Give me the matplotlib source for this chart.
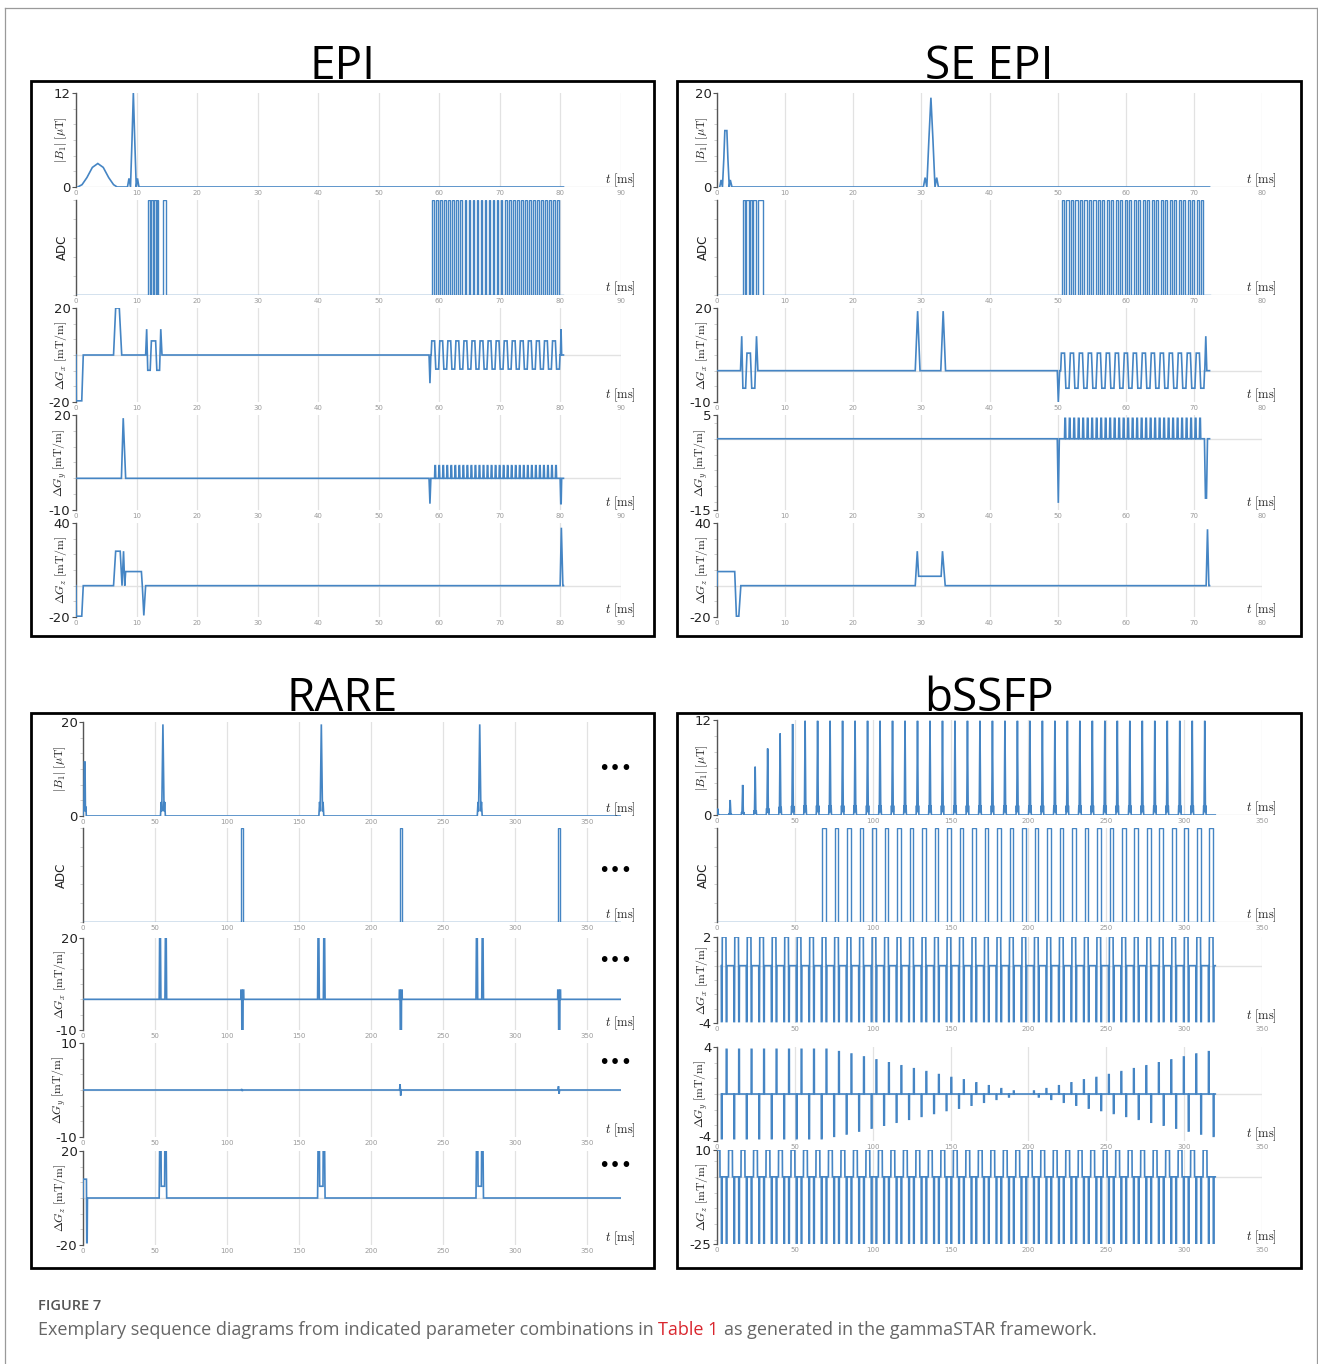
import matplotlib
matplotlib.use('Agg')
import matplotlib.pyplot as plt
from matplotlib.patches import Rectangle
from matplotlib.lines import Line2D
from matplotlib.ticker import MultipleLocator

W, H = 1318, 1364
plt.rcParams['mathtext.fontset'] = 'cm'

BLUE = '#4585c4'
GRID = '#e2e2e2'

# ---------------- EPI (times in ms) ----------------
epi_b1 = [(0.3, 0), (1.0, 0.3), (1.8, 1.2), (2.7, 2.5), (3.6, 3.0), (4.5, 2.5), (5.4, 1.2),
          (6.2, 0.3), (6.8, 0), (8.5, 0), (8.75, 1.1), (9.0, 0), (9.25, 6.0), (9.47, 12.0),
          (9.7, 6.0), (9.95, 0), (10.15, 1.1), (10.4, 0)]
epi_adc_nav = [(11.95, 12.2), (12.4, 12.7), (12.85, 13.2), (13.3, 13.6), (14.3, 14.85)]
epi_ro = [58.65, 0.665, 32, 6.0, 4.0]      # start, lobe length, lobes, Gx amp, Gy blip
epi_gx_pre = [(0, 0), (0.05, -19.5), (0.95, -19.5), (1.2, 0),
              (6.2, 0), (6.55, 20), (7.15, 20), (7.55, 0),
              (11.5, 0), (11.67, 11), (11.85, -6.5), (12.25, -6.5), (12.45, 6), (13.15, 6),
              (13.35, -6.5), (13.8, -6.5), (14.0, 11), (14.2, 0),
              (58.3, 0), (58.45, -12), (58.6, 0)]
epi_gx_post = [(80.0, 0), (80.1, 11), (80.2, 0)]
epi_gy_pre = [(0, 0), (7.5, 0), (7.8, 19), (8.2, 0), (58.3, 0), (58.45, -8), (58.6, 0)]
epi_gy_post = [(79.95, 0), (80.05, -8), (80.12, -8), (80.2, 0)]
epi_gz = [(0, 0), (0.05, -19.5), (0.95, -19.5), (1.2, 0), (6.2, 0), (6.55, 22), (7.3, 22),
          (7.6, 0), (7.85, 22), (8.05, 0), (8.2, 9), (10.8, 9), (10.95, 0), (11.2, -19),
          (11.5, 0), (79.95, 0), (80.15, 37), (80.4, 0)]
epi_end = 80.5

# ---------------- SE EPI ----------------
se_b1 = [(0.4, 0), (0.6, 1.5), (0.8, 0), (1.0, 6), (1.15, 12), (1.45, 12), (1.6, 6), (1.8, 0),
         (1.95, 1.5), (2.2, 0), (30.3, 0), (30.55, 2), (30.8, 0), (31.1, 10), (31.4, 19),
         (31.7, 10), (32.0, 0), (32.25, 2), (32.5, 0)]
se_adc_nav = [(3.78, 4.17), (4.3, 4.65), (4.8, 5.15), (5.3, 5.7), (5.95, 6.7)]
se_ro = [50.45, 0.66, 32, 5.6, 4.3]
se_gx_pre = [(0, 0), (3.45, 0), (3.63, 11), (3.8, -5.6), (4.2, -5.6), (4.4, 5.6), (4.9, 5.6),
             (5.1, -5.6), (5.55, -5.6), (5.8, 11), (6.0, 0),
             (29.1, 0), (29.45, 19), (29.8, 0), (32.85, 0), (33.2, 19), (33.55, 0),
             (49.95, 0), (50.1, -10), (50.3, 0)]
se_gx_post = [(71.6, 0), (71.75, 11), (71.9, 0)]
se_gy_pre = [(0, 0), (49.95, 0), (50.1, -13.5), (50.25, 0)]
se_gy_post = [(71.55, 0), (71.7, -12.5), (71.85, -12.5), (72.0, 0)]
se_gz = [(0, 0), (0.02, 9), (2.6, 9), (2.85, -19.5), (3.2, -19.5), (3.5, 0), (29.1, 0),
         (29.4, 22), (29.6, 6), (32.9, 6), (33.1, 22), (33.5, 0), (71.8, 0), (72.0, 36),
         (72.2, 0)]
se_end = 72.3

# ---------------- RARE ----------------
rare_b1_exc = [(0, 0), (0.3, 2), (0.6, 1), (0.9, 11.5), (1.4, 11.5), (1.7, 1), (2.0, 2), (2.3, 0)]
rare_refocus_t = [55.5, 165.5, 275.5]
rare_refocus_pulse = [(-1.7, 0), (-1.2, 3), (-0.8, 1), (0, 19.5), (0.8, 1), (1.2, 3), (1.7, 0)]
rare_echo_t = [110.6, 220.6, 330.6]
rare_adc_half = 0.7
rare_gx_crusher = [(-2.6, 0), (-2.3, 20), (-1.7, 20), (-1.4, 0), (1.4, 0), (1.7, 20),
                   (2.3, 20), (2.6, 0)]
rare_gx_read = [(-1.0, 0), (-0.9, 3), (-0.4, 3), (-0.3, -10), (0.5, -10), (0.6, 3),
                (1.0, 3), (1.1, 0)]
rare_gy_amp = [0.2, 1.2, 0.8]
rare_gz_exc = [(0, 0), (0.15, 8), (2.4, 8), (2.6, -19), (2.9, -19), (3.1, 0)]
rare_gz_refocus = [(-2.6, 0), (-2.3, 20), (-1.3, 20), (-1.15, 5), (1.15, 5), (1.3, 20),
                   (2.3, 20), (2.6, 0)]
rare_end = 373.6

# ---------------- bSSFP ----------------
bssfp_t0, bssfp_tr = 0.45, 8.02
bssfp_rf_amp = [0.8, 1.9, 3.8, 6.1, 8.4, 10.3, 11.5] + [11.9] * 33
bssfp_adc_first = 8
bssfp_gy_pe = [-3.8] * 9 + [-3.6, -3.4, -3.15, -2.9, -2.65, -2.4, -2.15, -1.9, -1.65, -1.4,
                            -1.2, -0.95, -0.7, -0.45, -0.25, 0.0, 0.25, 0.45, 0.7, 0.95, 1.2,
                            1.4, 1.65, 1.9, 2.15, 2.4, 2.65, 2.9, 3.15, 3.4, 3.6]
bssfp_rf_pulse = [(-0.9, 0), (-0.65, 0.1), (-0.45, 0.03), (0, 1), (0.45, 0.03), (0.65, 0.1),
                  (0.9, 0)]
bssfp_adc_win = (3.0, 5.3)
bssfp_gx = [(2.3, 0), (2.4, -3.9), (2.75, -3.9), (2.85, 0), (2.95, 2), (5.3, 2), (5.4, 0),
            (5.5, -3.9), (5.85, -3.9), (5.95, 0)]
bssfp_gy = [(2.35, 0), (2.4, 1), (2.8, 1), (2.85, 0), (5.45, 0), (5.5, -1), (5.9, -1), (5.95, 0)]
bssfp_gz = [(-1.1, 0), (-1.0, 10), (1.4, 10), (1.5, 0), (2.35, 0), (2.4, -25), (2.8, -25),
            (2.85, 0), (5.45, 0), (5.5, -25), (5.9, -25), (5.95, 0)]
bssfp_end = 320


def readout(t0, lobe, n, amp, ramp=0.1):
    pts = [(t0, 0.0)]
    for k in range(n):
        a = amp if k % 2 == 0 else -amp
        s = t0 + k * lobe
        pts += [(s + ramp, a), (s + lobe - ramp, a)]
    pts.append((t0 + n * lobe, 0.0))
    return pts


def blips(t0, lobe, n, h):
    pts = []
    for k in range(1, n):
        tb = t0 + k * lobe
        pts += [(tb - 0.1, 0), (tb - 0.04, h), (tb + 0.04, h), (tb + 0.1, 0)]
    return pts


def blocks(pairs):
    pts = [(0, 0)]
    for a, b in pairs:
        pts += [(a, 0), (a, 1), (b, 1), (b, 0)]
    return pts


def repeat(centers, shape, amps=None):
    pts = []
    for i, c in enumerate(centers):
        sc = 1 if amps is None else amps[i]
        pts += [(c + dt, v * sc) for dt, v in shape]
    return pts


def xy(pts, t_end):
    return [p[0] for p in pts] + [t_end], [p[1] for p in pts] + [0]


# assemble waveforms
epi_lobes = [epi_ro[0] + k * epi_ro[1] for k in range(epi_ro[2])]
epi_wave = [
    xy(epi_b1, epi_end),
    xy(blocks(epi_adc_nav + [(s + 0.19, s + epi_ro[1] - 0.19) for s in epi_lobes]), epi_end),
    xy(epi_gx_pre + readout(*epi_ro[:4]) + epi_gx_post, epi_end),
    xy(epi_gy_pre + blips(epi_ro[0], epi_ro[1], epi_ro[2], epi_ro[4]) + epi_gy_post, epi_end),
    xy(epi_gz, epi_end),
]
se_lobes = [se_ro[0] + k * se_ro[1] for k in range(se_ro[2])]
se_wave = [
    xy(se_b1, se_end),
    xy(blocks(se_adc_nav + [(s + 0.17, s + se_ro[1] - 0.17) for s in se_lobes]), se_end),
    xy(se_gx_pre + readout(*se_ro[:4]) + se_gx_post, se_end),
    xy(se_gy_pre + blips(se_ro[0], se_ro[1], se_ro[2], se_ro[4]) + se_gy_post, se_end),
    xy(se_gz, se_end),
]
rare_gx_pts = []
rare_gz_pts = list(rare_gz_exc)
for i, c in enumerate(rare_refocus_t):
    rare_gx_pts += [(c + dt, v) for dt, v in rare_gx_crusher]
    rare_gx_pts += [(rare_echo_t[i] + dt, v) for dt, v in rare_gx_read]
    rare_gz_pts += [(c + dt, v) for dt, v in rare_gz_refocus]
rare_wave = [
    xy(rare_b1_exc + repeat(rare_refocus_t, rare_refocus_pulse), rare_end),
    xy(blocks([(e - rare_adc_half, e + rare_adc_half) for e in rare_echo_t]), rare_end),
    xy([(0, 0)] + rare_gx_pts, rare_end),
    xy([(0, 0)] + repeat(rare_echo_t, [(-0.8, 0), (-0.4, 1), (0.0, -1), (0.4, 0)], rare_gy_amp),
       rare_end),
    xy(rare_gz_pts, rare_end),
]
bssfp_c = [bssfp_t0 + k * bssfp_tr for k in range(len(bssfp_rf_amp))]
bssfp_wave = [
    xy(repeat(bssfp_c, bssfp_rf_pulse, bssfp_rf_amp), bssfp_end),
    xy(blocks([(c + bssfp_adc_win[0], c + bssfp_adc_win[1]) for c in bssfp_c[bssfp_adc_first:]]),
       bssfp_end),
    xy(repeat(bssfp_c, bssfp_gx), bssfp_end),
    xy(repeat(bssfp_c, bssfp_gy, bssfp_gy_pe), bssfp_end),
    xy(repeat(bssfp_c, bssfp_gz), bssfp_end),
]

LAB_B1 = r'$|B_1|\ [\mu\mathrm{T}]$'
LAB_G = [r'$\Delta G_x\ [\mathrm{mT/m}]$', r'$\Delta G_y\ [\mathrm{mT/m}]$',
         r'$\Delta G_z\ [\mathrm{mT/m}]$']
LABELS = [LAB_B1, 'ADC'] + LAB_G

panels = [
    dict(title='EPI', box=(31, 81, 654, 636), x0=76, x1=621, xlim=(0, 90),
         xticks=list(range(0, 91, 10)), rows=[(93, 187), (200, 295), (308, 402), (415, 510), (523, 617)],
         ylims=[(0, 12), (0, 1), (-20, 20), (-10, 20), (-20, 40)], wave=epi_wave, lab_off=7, dots=None),
    dict(title='SE EPI', box=(677, 81, 1301, 636), x0=717, x1=1262, xlim=(0, 80),
         xticks=list(range(0, 81, 10)), rows=[(93, 187), (200, 295), (308, 402), (415, 510), (523, 617)],
         ylims=[(0, 20), (0, 1), (-10, 20), (-15, 5), (-20, 40)], wave=se_wave, lab_off=7, dots=None),
    dict(title='RARE', box=(31, 713, 654, 1268), x0=83, x1=621, xlim=(0, 373.6),
         xticks=list(range(0, 351, 50)), rows=[(722, 816), (828, 922), (938, 1030), (1043, 1137), (1151, 1245)],
         ylims=[(0, 20), (0, 1), (-10, 20), (-10, 10), (-20, 20)], wave=rare_wave, lab_off=15,
         dots=[0.51, 0.55, 0.75, 0.79, 0.85]),
    dict(title='bSSFP', box=(677, 713, 1301, 1268), x0=717, x1=1262, xlim=(0, 350),
         xticks=list(range(0, 351, 50)), rows=[(720, 815), (828, 922), (937, 1023), (1047, 1141), (1150, 1244)],
         ylims=[(0, 12), (0, 1), (-4, 2), (-4, 4), (-25, 10)], wave=bssfp_wave, lab_off=7, dots=None),
]

fig = plt.figure(figsize=(W / 100, H / 100), dpi=100)

# thin outer frame of the page
for xs, ys in [((5, 1317), (8, 8)), ((5, 5), (8, H)), ((1317, 1317), (8, H))]:
    fig.add_artist(Line2D([x / W for x in xs], [1 - y / H for y in ys], color='#9a9a9a', lw=0.9))

for p in panels:
    bx0, by0, bx1, by1 = p['box']
    fig.add_artist(Rectangle((bx0 / W, 1 - by1 / H), (bx1 - bx0) / W, (by1 - by0) / H,
                             fill=False, ec='black', lw=2.0))
    fig.text(((bx0 + bx1) / 2) / W, 1 - (by0 - 2) / H, p['title'], ha='center', va='baseline',
             fontsize=33, family='Open Sans', color='black')
    w_px = p['x1'] - p['x0']
    for i, (top, bot) in enumerate(p['rows']):
        ax = fig.add_axes([p['x0'] / W, 1 - bot / H, w_px / W, (bot - top) / H])
        ax.set_facecolor('none')
        t, v = p['wave'][i]
        ax.plot(t, v, color=BLUE, lw=1.0 if i == 1 else 1.2, solid_joinstyle='miter', zorder=3)
        ax.set_xlim(p['xlim'])
        lo, hi = p['ylims'][i]
        ax.set_ylim(lo, hi)
        for s in ['top', 'right', 'bottom']:
            ax.spines[s].set_visible(False)
        ax.spines['left'].set_color('#555555')
        ax.spines['left'].set_linewidth(1.0)
        ax.set_axisbelow(True)
        ax.set_xticks(p['xticks'])
        ax.set_xticklabels([str(x) for x in p['xticks']])
        ax.tick_params(axis='x', length=0, pad=2, labelsize=5, labelcolor='#9a9a9a')
        ax.grid(axis='x', color=GRID, lw=0.9)
        ax.axhline(0, color=GRID, lw=1.0, zorder=1)
        if i == 1:
            ax.set_yticks([])
            ax.yaxis.set_minor_locator(MultipleLocator(0.2))
        else:
            ax.set_yticks([lo, hi])
            ax.set_yticklabels([str(lo), str(hi)])
            ax.yaxis.set_minor_locator(MultipleLocator((hi - lo) / 6))
        ax.tick_params(axis='y', which='major', length=3, width=0.8, color='#555555',
                       labelsize=9.5, pad=1, labelcolor='#222222')
        ax.tick_params(axis='y', which='minor', length=2, width=0.6, color='#c8c8c8')
        if i < 4 and p['rows'][i + 1][0] - bot < 12:
            ax.get_yticklabels()[0].set_va('baseline')
        ax.set_ylabel(LABELS[i], fontsize=8.5, color='#222222')
        ax.yaxis.set_label_coords(-p['lab_off'] / w_px, 0.5)
        ax.annotate(r'$t\ [\mathrm{ms}]$', xy=(1, 0), xycoords='axes fraction', xytext=(-1, 7),
                    textcoords='offset pixels', ha='center', va='center', fontsize=9,
                    color='#222222')
        if p['dots'] is not None:
            ax.text(0.989, p['dots'][i], '\u2022\u2022\u2022', transform=ax.transAxes,
                    ha='center', va='center', fontsize=14, color='black')

# caption
fig.text(38 / W, 1 - 1306 / H, 'FIGURE 7', ha='left', va='center', fontsize=10.5,
         family='Open Sans', weight='semibold', color='#555555')
cap_y = 1 - 1330 / H
cap_parts = [('Exemplary sequence diagrams from indicated parameter combinations in', '#666666'),
             ('Table 1', '#d9262e'),
             ('as generated in the gammaSTAR framework.', '#666666')]
renderer = fig.canvas.get_renderer()
x_px = 38
for txt, col in cap_parts:
    tt = fig.text(x_px / W, cap_y, txt, ha='left', va='center', fontsize=13,
                  family='Open Sans', color=col)
    bb = tt.get_window_extent(renderer=renderer)
    x_px = bb.x1 + 4.7

fig.savefig('out.png', dpi=100)
